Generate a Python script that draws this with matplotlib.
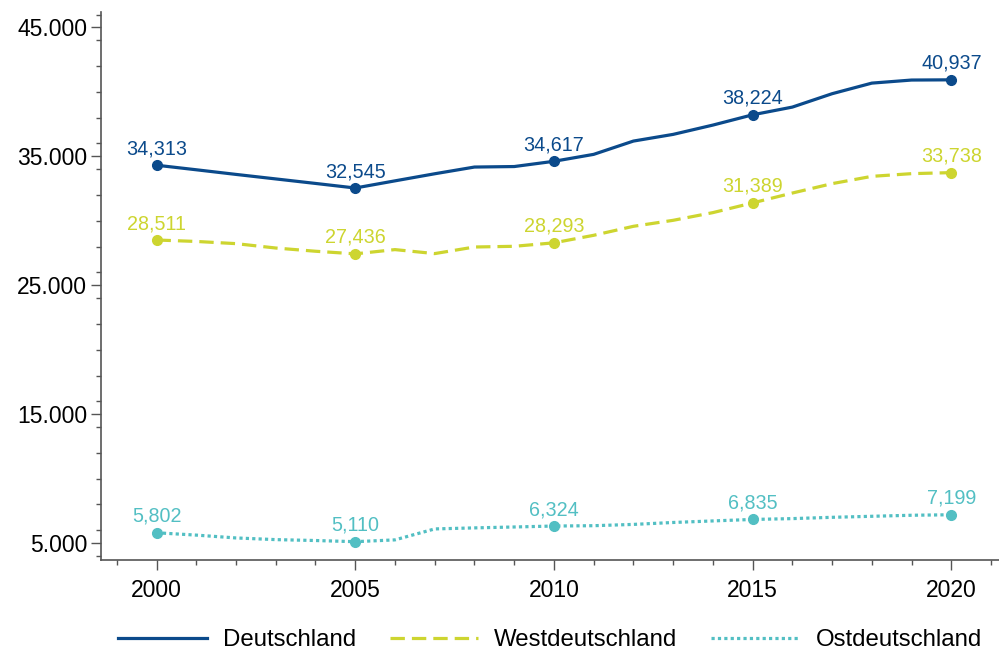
import numpy as np
import matplotlib
matplotlib.use("Agg")
import matplotlib.pyplot as plt
from matplotlib.ticker import MultipleLocator, FuncFormatter

plt.rcParams['font.family'] = ['Liberation Sans', 'DejaVu Sans']

years = list(range(2000, 2021))
deutschland = [34313, 33960, 33600, 33250, 32900, 32545, 33100, 33650, 34171, 34210,
               34617, 35155, 36186, 36705, 37426, 38224, 38822, 39860, 40682, 40920, 40937]
west = [28511, 28400, 28230, 27890, 27640, 27436, 27767, 27457, 27969, 28023,
        28293, 28876, 29574, 30039, 30636, 31389, 32155, 32884, 33450, 33659, 33738]
ost = [5802, 5620, 5400, 5270, 5200, 5110, 5250, 6100, 6180, 6250,
       6324, 6350, 6450, 6600, 6720, 6835, 6900, 7000, 7080, 7160, 7199]
label_years = [2000, 2005, 2010, 2015, 2020]

series = [
    ("Deutschland", deutschland, "#0b4a8b", "-"),
    ("Westdeutschland", west, "#cdd530", (0, (4.5, 2.2))),
    ("Ostdeutschland", ost, "#52bfc3", (0, (1, 1))),
]

fig = plt.figure(figsize=(9.99, 6.51), dpi=100)
ax = fig.add_axes([0.101, 0.140, 0.899, 0.8416])

for name, vals, color, ls in series:
    ax.plot(years, vals, color=color, linestyle=ls, linewidth=2.3, label=name)
    idx = [years.index(y) for y in label_years]
    ys = [vals[i] for i in idx]
    ax.plot(label_years, ys, linestyle="none", marker="o", markersize=7, color=color)
    for x, y in zip(label_years, ys):
        ax.annotate(f"{y:,}", (x, y), xytext=(0, 5), textcoords="offset points",
                    ha="center", va="bottom", color=color, fontsize=14.2)

ax.set_xlim(1998.6, 2021.2)
ax.set_ylim(3700, 46200)
ax.xaxis.set_major_locator(MultipleLocator(5))
ax.xaxis.set_minor_locator(MultipleLocator(1))
ax.yaxis.set_minor_locator(MultipleLocator(2000))
ax.set_yticks([5000, 15000, 25000, 35000, 45000])
ax.yaxis.set_major_formatter(FuncFormatter(lambda v, p: f"{int(v):,}".replace(",", ".")))

for s in ["top", "right"]:
    ax.spines[s].set_visible(False)
for s in ["left", "bottom"]:
    ax.spines[s].set_color("#555555")
    ax.spines[s].set_linewidth(1.2)
ax.tick_params(axis="both", which="major", length=7, width=1, color="#555555", labelsize=16.5)
ax.tick_params(axis="both", which="minor", length=3.5, width=1, color="#555555")
ax.tick_params(axis="x", which="major", pad=7)
ax.tick_params(axis="y", which="major", pad=3)

ax.legend(loc="center", bbox_to_anchor=(0.5, -0.147), ncol=3, frameon=False,
          fontsize=17.3, handlelength=3.7, columnspacing=1.4, handletextpad=0.65)

fig.savefig("out.png", dpi=100)
